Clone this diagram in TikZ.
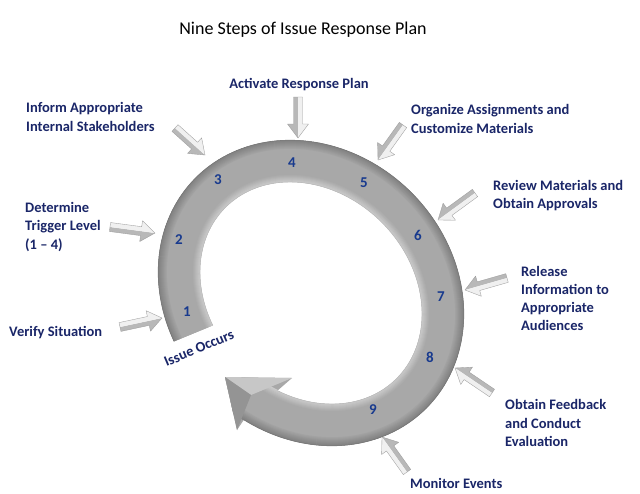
\documentclass[tikz,border=0pt]{standalone}
\usepackage{fontspec}
\setmainfont{Carlito}
\usetikzlibrary{calc}
\definecolor{navy}{RGB}{26,38,104}
\definecolor{numblue}{RGB}{24,58,142}
\tikzset{
  lbl/.style={font=\fontsize{14.5}{18.3}\selectfont\bfseries, text=navy, inner sep=0pt, align=left, anchor=west},
  num/.style={font=\fontsize{15}{18}\selectfont\bfseries, text=numblue, inner sep=0pt},
  arrowlight/.style={fill=black!6},
  arrowdark/.style={fill=black!28},
  arrowedge/.style={draw=black!38, line width=0.35pt, line join=round},
}
\newcommand\blkarrow[2]{%
  \coordinate (#1h) at ($(#2)!14pt!(#1)$);
  \fill[arrowdark] (#1) -- ($(#1)!4.5pt!-90:(#2)$) -- ($(#1h)!4.5pt!-90:(#2)$) -- ($(#1h)!10.5pt!-90:(#2)$) -- (#2) -- cycle;
  \fill[arrowlight] (#1) -- ($(#1)!4.5pt!90:(#2)$) -- ($(#1h)!4.5pt!90:(#2)$) -- ($(#1h)!10.5pt!90:(#2)$) -- (#2) -- cycle;
  \draw[arrowedge] ($(#1)!4.5pt!90:(#2)$) -- ($(#1h)!4.5pt!90:(#2)$) -- ($(#1h)!10.5pt!90:(#2)$) -- (#2) -- ($(#1h)!10.5pt!-90:(#2)$) -- ($(#1h)!4.5pt!-90:(#2)$) -- ($(#1)!4.5pt!-90:(#2)$) -- cycle;
}
\def\cx{311}
\def\cy{293}
\def\outerarc{plot[domain=112.6:435,samples=160,variable=\t] ({\cx+0.7071*(163*cos(\t)-142*sin(\t))},{\cy+0.7071*(163*cos(\t)+142*sin(\t))})}
\def\innerarc{plot[domain=0:315.4,samples=160,variable=\s] ({\cx+0.7071*(121*cos(428-\s)-100*sin(428-\s))},{\cy+0.7071*(121*cos(428-\s)+100*sin(428-\s))})}
\def\ringpath{plot[domain=112.6:435,samples=160,variable=\t] ({\cx+0.7071*(163*cos(\t)-142*sin(\t))},{\cy+0.7071*(163*cos(\t)+142*sin(\t))}) -- (ow) -- (tip) -- (iw) -- plot[domain=0:315.4,samples=160,variable=\s] ({\cx+0.7071*(121*cos(428-\s)-100*sin(428-\s))},{\cy+0.7071*(121*cos(428-\s)+100*sin(428-\s))}) -- cycle}
\begin{document}
\begin{tikzpicture}[x=1pt,y=-1pt]
\useasboundingbox (0,0) rectangle (640,493);
\fill[white] (0,0) rectangle (640,493);

% title
\node[font=\fontsize{18}{22}\selectfont, inner sep=0pt] (title) at (303,30) {Nine Steps of Issue Response Plan};

% arrowhead corners
\coordinate (ow) at (237,430);
\coordinate (tip) at (225,377);
\coordinate (iw) at (292,378);
\coordinate (hc) at (251,395);

% big circular arrow
\fill[black!34] \ringpath;
\begin{scope}
  \clip \ringpath;
  \foreach \i in {0,...,42}{
    \pgfmathsetmacro\k{ifthenelse(\i<8, 20+\i*1.8, ifthenelse(\i>33, 35+(\i-33)*1.6, 34))}
    \draw[black!\k, line width=1.4pt] plot[domain=0:360,samples=120,variable=\t]
      ({\cx+0.7071*((121+\i)*cos(\t)-(100+\i)*sin(\t))},{\cy+0.7071*((121+\i)*cos(\t)+(100+\i)*sin(\t))}) -- cycle;
  }
\end{scope}
\fill[black!22] (tip) -- (iw) -- (hc) -- cycle;
\fill[black!42] (tip) -- (hc) -- (ow) -- cycle;
\draw[black!55, line width=0.5pt] \outerarc;
\draw[black!28, line width=0.4pt] \innerarc;

% numbers
\node[num] (n1) at (187,312) {1};
\node[num] (n2) at (179,240) {2};
\node[num] (n3) at (218,180) {3};
\node[num] (n4) at (292,163) {4};
\node[num] (n5) at (364,183) {5};
\node[num] (n6) at (418,235) {6};
\node[num] (n7) at (441,297) {7};
\node[num] (n8) at (430,357) {8};
\node[num] (n9) at (373,410) {9};

\node[lbl, anchor=center, rotate=23] (issue) at (199,348) {Issue Occurs};

% labels
\node[lbl] (l1) at (9,333) {Verify Situation};
\node[lbl] (l2) at (25,227) {Determine\\Trigger Level\\(1 – 4)};
\node[lbl] (l3) at (26,117) {Inform Appropriate\\Internal Stakeholders};
\node[lbl, anchor=center] (l4) at (299,85) {Activate Response Plan};
\node[lbl] (l5) at (411,119) {Organize Assignments and\\Customize Materials};
\node[lbl] (l6) at (493,195.5) {Review Materials and\\Obtain Approvals};
\node[lbl] (l7) at (521,298.5) {Release\\Information to\\Appropriate\\Audiences};
\node[lbl] (l8) at (505,423) {Obtain Feedback\\and Conduct\\Evaluation};
\node[lbl] (l9) at (410,483) {Monitor Events};

% small arrows
\coordinate (t1) at (120,327); \coordinate (p1) at (162,318);
\coordinate (t2) at (110,227); \coordinate (p2) at (155,233);
\coordinate (t3) at (175,128); \coordinate (p3) at (205,155);
\coordinate (t4) at (298,97);  \coordinate (p4) at (298,138);
\coordinate (t5) at (403,125); \coordinate (p5) at (378,160);
\coordinate (t6) at (475,193); \coordinate (p6) at (438,220);
\coordinate (t7) at (507,278); \coordinate (p7) at (465,290);
\coordinate (t8) at (492,393); \coordinate (p8) at (455,368);
\coordinate (t9) at (407,472); \coordinate (p9) at (382,437);
\blkarrow{t1}{p1}
\blkarrow{t2}{p2}
\blkarrow{t3}{p3}
\blkarrow{t4}{p4}
\blkarrow{t5}{p5}
\blkarrow{t6}{p6}
\blkarrow{t7}{p7}
\blkarrow{t8}{p8}
\blkarrow{t9}{p9}
\end{tikzpicture}
\end{document}
